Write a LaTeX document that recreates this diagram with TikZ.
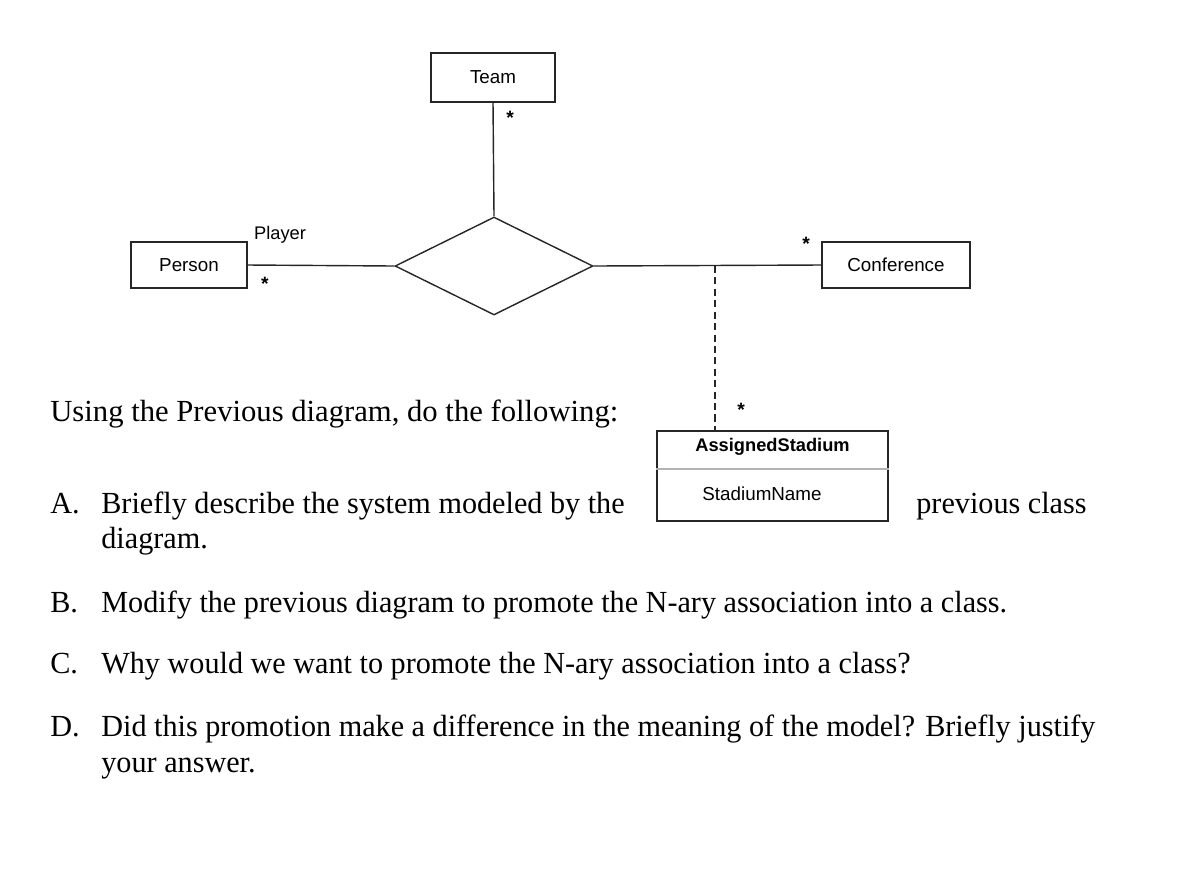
\documentclass[tikz,border=0pt]{standalone}
\usepackage{fontspec}
\setmainfont{Liberation Serif}
\setsansfont{Liberation Sans}
\newfontfamily\narrowserif{Liberation Serif}[FakeStretch=0.985]
\usetikzlibrary{shapes.geometric}

\tikzset{
	classbox/.style={draw=black!85, line width=0.8pt, inner sep=0pt, font=\sffamily\fontsize{10.7}{12}\selectfont},
	assocnode/.style={draw=black!85, line width=0.8pt, diamond, aspect=2, inner sep=0pt, minimum width=3.96cm, minimum height=1.96cm},
	link/.style={black!85, line width=0.8pt},
	mult/.style={font=\sffamily\bfseries\fontsize{11}{12}\selectfont, inner sep=0pt},
	rolelabel/.style={font=\sffamily\fontsize{10.4}{12}\selectfont, inner sep=0pt},
	question/.style={anchor=base west, inner sep=0pt, font=\fontsize{17.45}{20}\selectfont},
	qitem/.style={question, font=\narrowserif\fontsize{17.45}{20}\selectfont}
}

\begin{document}
\begin{tikzpicture}[x=0.02cm, y=-0.02cm]
	\useasboundingbox (0,0) rectangle (1195,880);
	
	% the classes
	\node[classbox, minimum width=2.48cm, minimum height=0.98cm] (team) at (493,77.5) {Team};
	\node[classbox, minimum width=2.32cm, minimum height=0.92cm] (person) at (189,265) {Person};
	\node[classbox, minimum width=2.96cm, minimum height=0.92cm] (conf) at (896,265) {Conference};
	\node[assocnode] (assoc) at (494,266) {};
	
	% association class
	\node[classbox, minimum width=4.62cm, minimum height=1.8cm] (stadium) at (772.5,476) {};
	\node[classbox, draw=none, font=\sffamily\bfseries\fontsize{10.4}{12}\selectfont] (stadname) at (772.5,447) {AssignedStadium};
	\node[classbox, draw=none] (stadattr) at (762,494) {StadiumName};
	\draw[black!30, line width=0.8pt] (stadium.west |- 0,469) -- (stadium.east |- 0,469);
	
	% connectors
	\draw[link] (person.east) -- (assoc.west);
	\draw[link] (team.south) -- (assoc.north);
	\draw[link] (assoc.east) -- (conf.west);
	\coordinate (joint) at (715,266);
	\draw[link, dash pattern={on 4pt off 2.5pt}] (joint) -- (joint |- stadium.north);
	
	% multiplicities and role
	\node[mult] (mteam) at (510,118) {*};
	\node[mult] (mperson) at (265,284) {*};
	\node[mult] (mconf) at (806,244) {*};
	\node[mult] (mstad) at (741,410) {*};
	\node[rolelabel] (role) at (280,235) {Player};
	
	% the questions
	\node[question] (intro) at (50,421) {Using the Previous diagram, do the following:};
	\node[qitem] (qa) at (50,513) {A.};
	\node[qitem] (qatext) at (101,513) {Briefly describe the system modeled by the};
	\node[qitem] (qamore) at (916,513) {previous class};
	\node[qitem] (qaend) at (101,548) {diagram.};
	\node[qitem] (qb) at (50,612) {B.};
	\node[qitem] (qbtext) at (101,612) {Modify the previous diagram to promote the N-ary association into a class.};
	\node[qitem] (qc) at (50,673) {C.};
	\node[qitem] (qctext) at (101,673) {Why would we want to promote the N-ary association into a class?};
	\node[qitem] (qd) at (50,736) {D.};
	\node[qitem] (qdtext) at (101,736) {Did this promotion make a difference in the meaning of the model? Briefly justify};
	\node[qitem] (qdend) at (101,772) {your answer.};
\end{tikzpicture}
\end{document}
